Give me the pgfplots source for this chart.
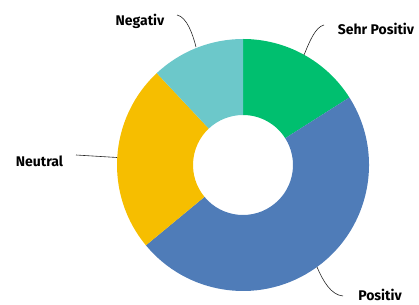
\documentclass[border=0pt]{standalone}
\usepackage{pgfplots}
\usepackage{pgfplotstable}
\pgfplotsset{compat=1.18}
\usepackage{fontspec}
\setmainfont{Fira Sans}
\definecolor{cgreen}{RGB}{0,191,111}
\definecolor{cblue}{RGB}{79,124,184}
\definecolor{cyellow}{RGB}{246,190,0}
\definecolor{cteal}{RGB}{108,200,202}
\pgfplotstableread{
label value col
{Sehr Positiv} 16 cgreen
Positiv 48 cblue
Neutral 24 cyellow
Negativ 12 cteal
}\datatable
\begin{document}
\begin{tikzpicture}
\path[use as bounding box] (0,0) rectangle (419bp,305bp);
\begin{axis}[at={(0,0)}, anchor=south west, scale only axis, width=419bp, height=305bp,
  xmin=-243, xmax=176, ymin=-140, ymax=165, hide axis, clip=false]
\gdef\cum{0}
\pgfplotsinvokeforeach{0,1,2,3}{
  \pgfplotstablegetelem{#1}{value}\of\datatable \let\v\pgfplotsretval
  \pgfplotstablegetelem{#1}{col}\of\datatable \let\c\pgfplotsretval
  \pgfmathsetmacro\a{90-\cum*3.6}
  \pgfmathsetmacro\b{90-(\cum+\v)*3.6}
  \pgfmathsetmacro\ox{126*cos(\a)}\pgfmathsetmacro\oy{126*sin(\a)}
  \pgfmathsetmacro\ix{50*cos(\b)}\pgfmathsetmacro\iy{50*sin(\b)}
  \pgfmathsetmacro\newcum{\cum+\v}\xdef\cum{\newcum}
  \edef\temp{\noexpand\fill[\c] (axis cs:\ox,\oy) arc[start angle=\a, end angle=\b, radius=126bp] -- (axis cs:\ix,\iy) arc[start angle=\b, end angle=\a, radius=50bp] -- cycle;}
  \temp
}
\draw[line width=0.6pt, black!85] (axis cs:-66,150) .. controls (axis cs:-56,148) and (axis cs:-50,130) .. (axis cs:-47,118);
\draw[line width=0.6pt, black!85] (axis cs:81,140) .. controls (axis cs:72,138) and (axis cs:66,122) .. (axis cs:61,110);
\draw[line width=0.6pt, black!85] (axis cs:-167,10) -- (axis cs:-126,7.5);
\draw[line width=0.6pt, black!85] (axis cs:74,-102) .. controls (axis cs:80,-116) and (axis cs:88,-130) .. (axis cs:100,-131);
\node[font=\fontsize{14bp}{16bp}\selectfont\bfseries] at (axis cs:-103,144) {Negativ};
\node[font=\fontsize{14bp}{16bp}\selectfont\bfseries] at (axis cs:133,136) {Sehr Positiv};
\node[font=\fontsize{14bp}{16bp}\selectfont\bfseries] at (axis cs:-203.5,4) {Neutral};
\node[font=\fontsize{14bp}{16bp}\selectfont\bfseries] at (axis cs:137,-130) {Positiv};
\end{axis}
\end{tikzpicture}
\end{document}
